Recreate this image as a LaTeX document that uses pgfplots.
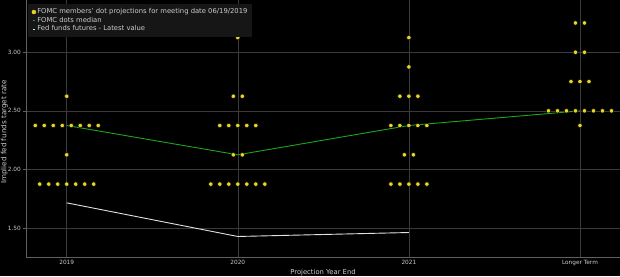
\documentclass[border=0pt]{standalone}
\usepackage{pgfplots}
\pgfplotsset{compat=1.18}
\usepackage{fontspec}
\setmainfont{DejaVu Sans}
\definecolor{dotyellow}{RGB}{232,212,38}
\definecolor{medgreen}{RGB}{30,165,30}
\definecolor{futwhite}{RGB}{225,225,225}
\definecolor{gridgray}{RGB}{58,58,58}
\definecolor{axgray}{RGB}{95,95,95}
\definecolor{txtgray}{RGB}{205,205,205}
\definecolor{legbg}{RGB}{22,22,22}
\begin{document}
\begin{tikzpicture}
\fill[black, use as bounding box] (0,0) rectangle (620pt,276pt);
\begin{axis}[
  at={(26pt,18.3pt)}, anchor=south west,
  scale only axis, width=594pt, height=257.7pt,
  xmin=-0.238, xmax=3.234, ymin=1.247, ymax=3.446,
  axis x line*=bottom, axis y line*=left,
  axis line style={axgray, line width=0.6pt},
  xtick={0,1,2,3}, xticklabels={2019,2020,2021,Longer Term},
  ytick={1.5,2,2.5,3},
  yticklabel style={/pgf/number format/fixed, /pgf/number format/fixed zerofill, /pgf/number format/precision=2},
  /pgf/number format/assume math mode=true,
  tick align=outside, major tick length=2.5pt,
  tick style={axgray, line width=0.6pt},
  xtick style={draw=none},
  grid=major, major grid style={gridgray, line width=0.6pt},
  ticklabel style={font=\fontsize{5.8}{7}\selectfont, text=txtgray},
  xticklabel style={yshift=3.2pt},
  yticklabel style={xshift=0.8pt},
  xlabel={Projection Year End}, ylabel={Implied fed funds target rate},
  xlabel style={font=\fontsize{6.8}{8}\selectfont, text=txtgray, at={(axis description cs:0.5,-0.0575)}, anchor=center},
  ylabel style={font=\fontsize{7.2}{8}\selectfont, text=txtgray, at={(axis description cs:-0.0362,0.488)}, anchor=center},
  legend style={at={(axis description cs:0,1)}, anchor=north west, xshift=2pt, yshift=-4pt,
    fill=legbg, draw=none, font=\fontsize{6.8}{8}\selectfont, text=txtgray,
    inner xsep=3.5pt, inner ysep=3.5pt, row sep=-0.1pt,
    nodes={inner xsep=1.2pt, inner ysep=1pt}},
  legend cell align=left,
]
\addlegendimage{legend image code/.code={\fill[dotyellow] (0pt,0pt) circle (2pt);}}
\addlegendentry{FOMC members' dot projections for meeting date 06/19/2019}
\addlegendimage{legend image code/.code={\draw[medgreen, line width=1.1pt] (-1pt,0pt) -- (1pt,0pt);}}
\addlegendentry{FOMC dots median}
\addlegendimage{legend image code/.code={\draw[futwhite, line width=1.1pt] (-1pt,0pt) -- (1pt,0pt);}}
\addlegendentry{Fed funds futures - Latest value}
\addplot[medgreen, line width=0.9pt, forget plot] coordinates {(0,2.375) (1,2.125) (2,2.375) (3,2.5)};
\addplot[futwhite, line width=0.9pt, forget plot] coordinates {(0,1.715) (1,1.428) (2,1.462)};
\addplot[only marks, mark=*, mark size=2.2pt, mark options={draw=none, fill=dotyellow}, forget plot] coordinates {
(0,2.625)
(-0.184,2.375) (-0.1315,2.375) (-0.0789,2.375) (-0.0263,2.375) (0.0263,2.375) (0.0789,2.375) (0.1315,2.375) (0.184,2.375)
(0,2.125)
(-0.1578,1.875) (-0.1052,1.875) (-0.0526,1.875) (0,1.875) (0.0526,1.875) (0.1052,1.875) (0.1578,1.875)
(1,3.125)
(0.9737,2.625) (1.0263,2.625)
(0.8948,2.375) (0.9474,2.375) (1,2.375) (1.0526,2.375) (1.1052,2.375)
(0.9737,2.125) (1.0263,2.125)
(0.8422,1.875) (0.8948,1.875) (0.9474,1.875) (1,1.875) (1.0526,1.875) (1.1052,1.875) (1.1578,1.875)
(2,3.125)
(2,2.875)
(1.9474,2.625) (2,2.625) (2.0526,2.625)
(1.8948,2.375) (1.9474,2.375) (2,2.375) (2.0526,2.375) (2.1052,2.375)
(1.9737,2.125) (2.0263,2.125)
(1.8948,1.875) (1.9474,1.875) (2,1.875) (2.0526,1.875) (2.1052,1.875)
(2.9737,3.25) (3.0263,3.25)
(2.9737,3.0) (3.0263,3.0)
(2.9474,2.75) (3,2.75) (3.0526,2.75)
(2.816,2.5) (2.8685,2.5) (2.9211,2.5) (2.9737,2.5) (3.0263,2.5) (3.0789,2.5) (3.1315,2.5) (3.184,2.5)
(3,2.375)
};
\end{axis}
\end{tikzpicture}
\end{document}
